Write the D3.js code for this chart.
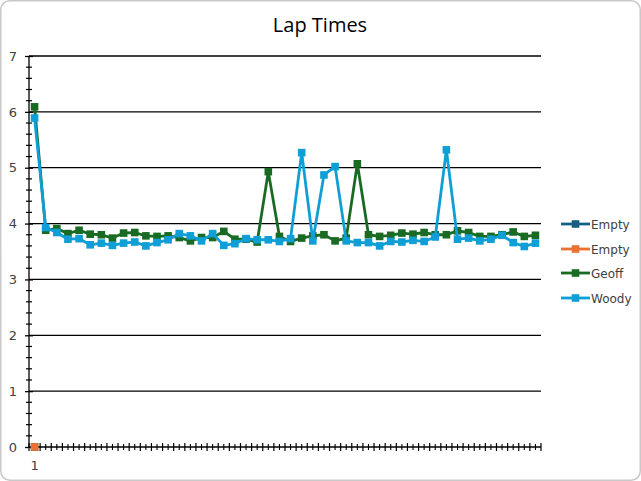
<!DOCTYPE html>
<html><head><meta charset="utf-8">
<script src="https://cdn.jsdelivr.net/npm/d3@7"></script>
<style>body{margin:0;background:#fff}svg{display:block}</style>
</head><body>
<svg id="c" width="641" height="481"></svg>
<script>
const title = "Lap Times";
const geoff = [6.09,3.88,3.91,3.82,3.88,3.81,3.80,3.74,3.83,3.84,3.78,3.77,3.78,3.75,3.69,3.75,3.75,3.86,3.72,3.72,3.67,4.93,3.77,3.68,3.74,3.78,3.80,3.69,3.74,5.07,3.80,3.77,3.79,3.83,3.81,3.84,3.80,3.80,3.87,3.84,3.77,3.77,3.80,3.85,3.77,3.79];
const woody = [5.89,3.93,3.84,3.72,3.73,3.62,3.65,3.61,3.65,3.67,3.60,3.66,3.71,3.82,3.78,3.69,3.82,3.61,3.64,3.73,3.71,3.71,3.68,3.73,5.27,3.69,4.87,5.02,3.69,3.66,3.66,3.60,3.68,3.67,3.70,3.68,3.76,5.32,3.72,3.74,3.69,3.72,3.79,3.66,3.59,3.65];
const empty1 = [0];
const empty2 = [0];
const seriesNames = ["Empty","Empty","Geoff","Woody"];
const seriesColors = ["#156082","#E97132","#196B24","#0F9ED5"];
const yTicks = [0,1,2,3,4,5,6,7];
const xLabels = ["1"];

const series = [empty1, empty2, geoff, woody];
const nCat = geoff.length;
const cats = d3.range(1, nCat + 1);

const svg = d3.select("#c");
svg.append("rect").attr("x",0.75).attr("y",0.75).attr("width",639.5).attr("height",479.5)
  .attr("rx",9).attr("fill","#fff").attr("stroke","#c9c9c9").attr("stroke-width",1.5);

const L = 29, R = 541, T = 56, B = 447;
const x = d3.scaleBand().domain(cats).range([L, R]);
const y = d3.scaleLinear().domain([0, 7]).range([B, T]);
const cx = i => x(cats[i]) + x.bandwidth() / 2;

svg.append("text").attr("x", 320).attr("y", 32).attr("text-anchor","middle")
  .attr("font-family","'Open Sans', 'Liberation Sans', sans-serif").attr("font-size",20)
  .attr("fill","#000").text(title);

// gridlines
svg.append("g").selectAll("line").data(yTicks.filter(d => d > 0)).join("line")
  .attr("x1", L).attr("x2", R).attr("y1", d => y(d)).attr("y2", d => y(d))
  .attr("stroke","#000").attr("stroke-width",1.3);

// y axis
const yAxis = svg.append("g").attr("transform", `translate(${L},0)`)
  .call(d3.axisLeft(y).tickValues(yTicks).tickSize(4).tickPadding(8).tickFormat(d3.format("d")));
yAxis.select(".domain").attr("stroke","#000").attr("stroke-width",1.3).attr("d", `M0,${T}V${B}`);
yAxis.selectAll(".tick line").attr("x2",-4).attr("x1",4).attr("stroke","#000").attr("stroke-width",1.3);
yAxis.selectAll("text").attr("font-family","'DejaVu Sans', Verdana, sans-serif").attr("font-size",13).attr("fill","#404040");
// y minor ticks
const yMinor = d3.range(0, 7.001, 0.2).filter(v => Math.abs(v - Math.round(v)) > 0.01);
svg.append("g").selectAll("line").data(yMinor).join("line")
  .attr("x1", L - 3).attr("x2", L + 3).attr("y1", d => y(d)).attr("y2", d => y(d))
  .attr("stroke","#000").attr("stroke-width",1.2);

// x axis
svg.append("line").attr("x1", L).attr("x2", R).attr("y1", B).attr("y2", B).attr("stroke","#000").attr("stroke-width",1.3);
const bounds = d3.range(0, nCat + 1).map(i => L + i * x.step());
svg.append("g").selectAll("line").data(bounds).join("line")
  .attr("x1", d => d).attr("x2", d => d).attr("y1", B - 4).attr("y2", B + 4)
  .attr("stroke","#000").attr("stroke-width",1.2);
svg.append("g").selectAll("line").data(cats).join("line")
  .attr("x1", d => x(d) + x.bandwidth()/2).attr("x2", d => x(d) + x.bandwidth()/2).attr("y1", B - 3).attr("y2", B + 3)
  .attr("stroke","#000").attr("stroke-width",1.1);
svg.append("g").selectAll("text").data(xLabels).join("text")
  .attr("x", (d,i) => cx(i)).attr("y", 470).attr("text-anchor","middle")
  .attr("font-family","'DejaVu Sans', Verdana, sans-serif").attr("font-size",13).attr("fill","#404040").text(d => d);

// series
const line = d3.line().x((d,i) => cx(i)).y(d => y(d));
series.forEach((s, k) => {
  const g = svg.append("g");
  g.append("path").datum(s).attr("d", line).attr("fill","none")
    .attr("stroke", seriesColors[k]).attr("stroke-width", 2.8).attr("stroke-linejoin","round");
  g.selectAll("rect").data(s).join("rect")
    .attr("x", (d,i) => cx(i) - 3.8).attr("y", d => y(d) - 3.8).attr("width", 7.6).attr("height", 7.6)
    .attr("fill", seriesColors[k]);
});

// legend
const legY = [224, 249, 273, 298];
const lg = svg.append("g");
seriesNames.forEach((n, k) => {
  lg.append("line").attr("x1", 561).attr("x2", 590).attr("y1", legY[k]).attr("y2", legY[k])
    .attr("stroke", seriesColors[k]).attr("stroke-width", 2.8);
  lg.append("rect").attr("x", 575.5 - 3.8).attr("y", legY[k] - 3.8).attr("width", 7.6).attr("height", 7.6)
    .attr("fill", seriesColors[k]);
  lg.append("text").attr("x", 591).attr("y", legY[k] + 4.5)
    .attr("font-family","'DejaVu Sans', Verdana, sans-serif").attr("font-size",12).attr("fill","#404040").text(n);
});
</script>
</body></html>
